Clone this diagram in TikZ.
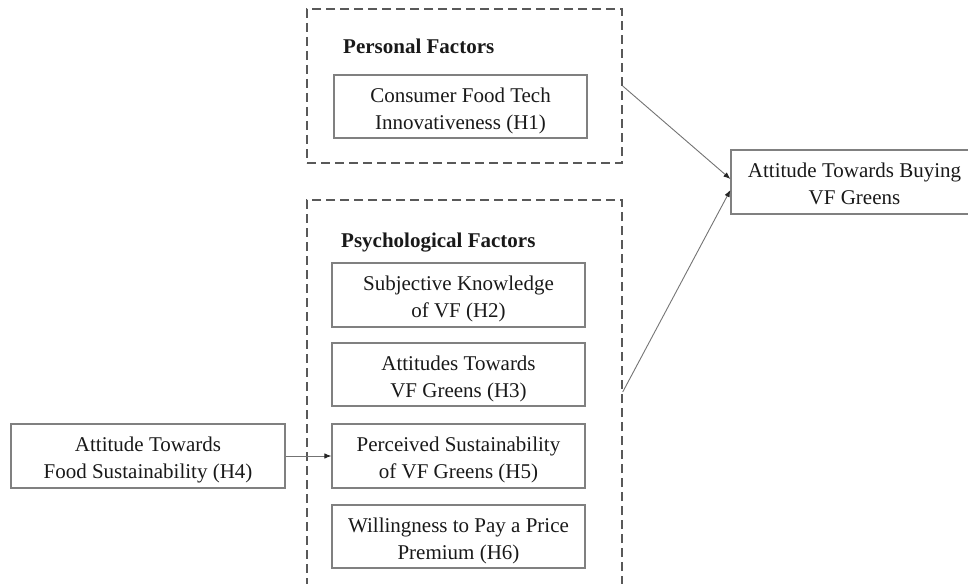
\documentclass[tikz,border=0pt]{standalone}
\usepackage{fontspec}
\setmainfont{Liberation Serif}
\usetikzlibrary{arrows.meta}
% struts that fix the height of the first line and the depth of the last one,
% so the two text lines sit at the same place in every box
\newcommand{\boxtop}{\rule{0pt}{23.5pt}}
\newcommand{\boxbot}{\rule[-5pt]{0pt}{5pt}}
\begin{document}
\begin{tikzpicture}[x=1pt,y=-1pt,
  every node/.style={font=\fontsize{21}{27}\selectfont, text=black!90},
  factorbox/.style={draw=black!50, line width=1.2pt, rectangle, align=center,
    inner sep=0pt, minimum width=253pt, minimum height=63pt},
  groupbox/.style={draw=black!65, line width=1.4pt, dash pattern=on 9pt off 5pt,
    rectangle, inner sep=0pt, minimum width=315pt},
  grouptitle/.style={font=\fontsize{21}{27}\selectfont\bfseries, anchor=west, inner sep=0pt},
  link/.style={draw=black!55, line width=0.9pt,
    -{Latex[length=7pt,width=5.5pt,color=black!85]}}]
\useasboundingbox (0,0) rectangle (968,583);
\clip (0,0) rectangle (968,583);

% group frames
\node[groupbox, minimum height=154pt] (personal) at (464.5,86) {};
\node[groupbox, minimum height=420pt] (psych) at (464.5,410) {};

\node[grouptitle] (ptitle) at (343,46) {Personal Factors};
\node[grouptitle] (stitle) at (341,243) {Psychological Factors};

% personal factor
\node[factorbox] (h1) at (460.5,106.5) {\boxtop Consumer Food Tech\\Innovativeness (H1)\boxbot};

% psychological factors
\node[factorbox, minimum height=64pt] (h2) at (458.5,295) {\boxtop Subjective Knowledge\\of VF (H2)\boxbot};
\node[factorbox] (h3) at (458.5,374.5) {\boxtop Attitudes Towards\\VF Greens (H3)\boxbot};
\node[factorbox, minimum height=64pt] (h5) at (458.5,456) {\boxtop Perceived Sustainability\\of VF Greens (H5)\boxbot};
\node[factorbox] (h6) at (458.5,536.5) {\boxtop Willingness to Pay a Price\\Premium (H6)\boxbot};

% external antecedent
\node[factorbox, minimum width=274pt, minimum height=64pt] (h4) at (148,456) {\boxtop Attitude Towards\\Food Sustainability (H4)\boxbot};

% outcome
\node[factorbox, minimum width=247pt, minimum height=64pt] (target) at (854.5,182) {\boxtop Attitude Towards Buying\\VF Greens\boxbot};

% paths
\draw[link] (personal.east) -- ([yshift=3pt]target.west);
\draw[link] ([yshift=18pt]psych.east) -- ([yshift=-8pt]target.west);
\draw[link] (h4.east) -- (h5.west);
\end{tikzpicture}
\end{document}
